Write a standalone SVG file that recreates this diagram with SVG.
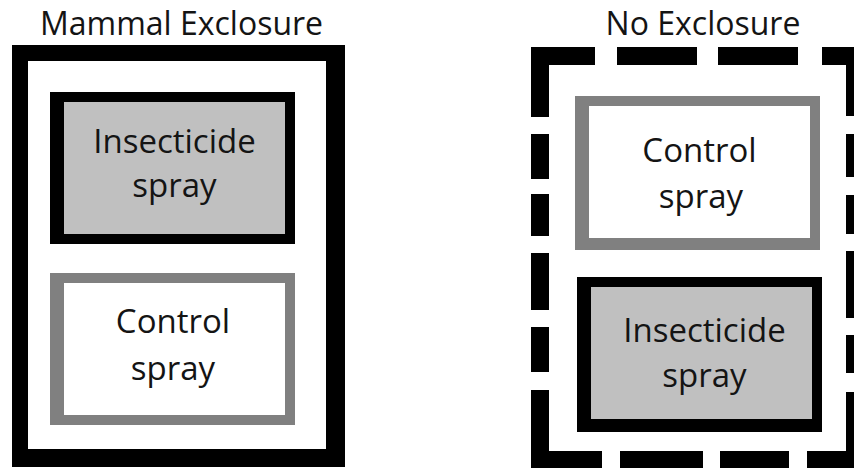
<svg xmlns="http://www.w3.org/2000/svg" width="854" height="468" viewBox="0 0 854 468">
  <style>
    .t { font-family: "Open Sans", "Noto Sans", "DejaVu Sans", sans-serif; font-size: 33px; fill: #141414; text-anchor: middle; }
    .h { font-size: 32px; }
    .blk { fill: #000; }
    .gry { fill: #808080; }
    .ins { fill: #c0c0c0; }
    .wht { fill: #fff; }
  </style>
  <rect width="854" height="468" fill="#fff"/>

  <g id="mammal-exclosure">
    <text class="t h" x="181.5" y="35">Mammal Exclosure</text>
    <path class="blk" fill-rule="evenodd" d="M12 45H345V467H12Z M28 61V449H326V61Z"/>
  </g>

  <g id="left-insecticide">
    <rect class="blk" x="50" y="92" width="245" height="152"/>
    <rect class="ins" x="64" y="102" width="221" height="132"/>
    <text class="t" x="174.5" y="153">Insecticide</text>
    <text class="t" x="174.5" y="197">spray</text>
  </g>

  <g id="left-control">
    <rect class="gry" x="50" y="273" width="245" height="152"/>
    <rect class="wht" x="64" y="283" width="221" height="132"/>
    <text class="t" x="173" y="333">Control</text>
    <text class="t" x="173" y="380">spray</text>
  </g>

  <g id="no-exclosure">
    <text class="t h" x="703" y="35">No Exclosure</text>
    <g class="blk">
      <rect x="531" y="47" width="64" height="18"/>
      <rect x="617" y="47" width="80" height="18"/>
      <rect x="718" y="47" width="80" height="18"/>
      <rect x="822" y="47" width="42" height="18"/>
      <rect x="531" y="47" width="18" height="70"/>
      <rect x="531" y="134" width="18" height="45"/>
      <rect x="531" y="194" width="18" height="42"/>
      <rect x="531" y="253" width="18" height="57"/>
      <rect x="531" y="327" width="18" height="45"/>
      <rect x="531" y="390" width="18" height="79"/>
      <rect x="846" y="47" width="18" height="69"/>
      <rect x="846" y="134" width="18" height="43"/>
      <rect x="846" y="195" width="18" height="39"/>
      <rect x="846" y="251" width="18" height="67"/>
      <rect x="846" y="335" width="18" height="38"/>
      <rect x="846" y="392" width="18" height="77"/>
      <rect x="531" y="451" width="71" height="18"/>
      <rect x="620" y="451" width="83" height="18"/>
      <rect x="720" y="451" width="69" height="18"/>
      <rect x="807" y="451" width="57" height="18"/>
    </g>
  </g>

  <g id="right-control">
    <rect class="gry" x="575" y="96" width="245" height="154"/>
    <rect class="wht" x="589" y="106" width="221" height="132"/>
    <text class="t" x="699.5" y="162">Control</text>
    <text class="t" x="701" y="208">spray</text>
  </g>

  <g id="right-insecticide">
    <rect class="blk" x="577" y="277" width="245" height="155"/>
    <rect class="ins" x="591" y="287" width="221" height="132"/>
    <text class="t" x="704.5" y="342">Insecticide</text>
    <text class="t" x="704.5" y="387">spray</text>
  </g>

  <g id="connectors"/>
</svg>
